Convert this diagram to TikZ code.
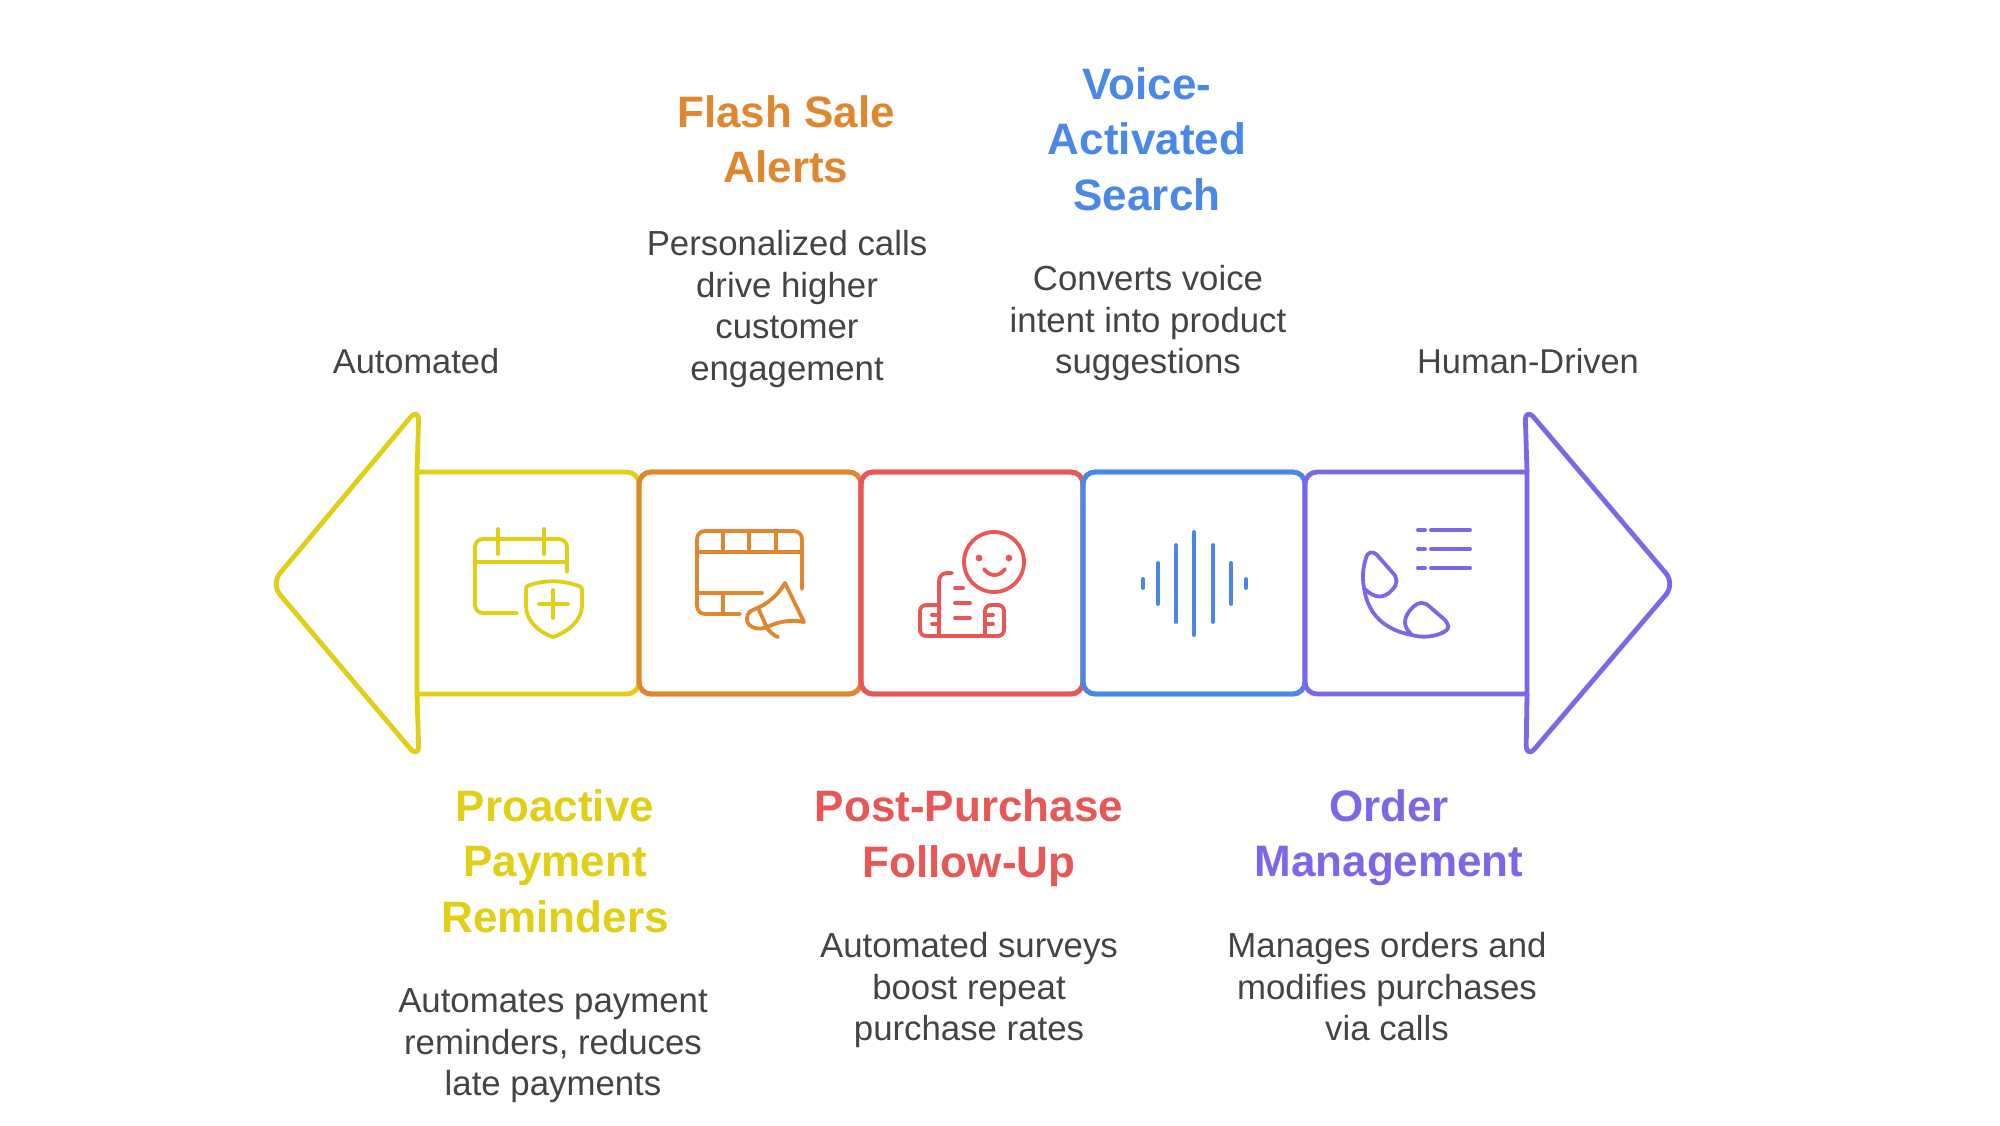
\documentclass[tikz,border=0pt]{standalone}
\usepackage{fontspec}
\setmainfont{Liberation Sans}
\usetikzlibrary{positioning}
\definecolor{remindcol}{HTML}{E0CF15}
\definecolor{flashcol}{HTML}{E0862F}
\definecolor{followcol}{HTML}{E85656}
\definecolor{voicecol}{HTML}{4A88E8}
\definecolor{ordercol}{HTML}{7F66E8}
\definecolor{bodycol}{HTML}{444444}
\tikzset{
  stepbox/.style={rectangle, rounded corners=6pt, minimum size=111pt, inner sep=0pt, outer sep=0pt, line width=2.4pt, fill=white},
  headarrow/.style={line width=2.4pt, rounded corners=7pt, line join=round},
  icon/.style={line width=1.9pt, line cap=round, line join=round},
  heading/.style={font=\fontsize{22}{27.7}\selectfont\bfseries, align=center, inner sep=0pt},
  detail/.style={font=\fontsize{17.4}{20.8}\selectfont, align=center, inner sep=0pt, text=bodycol},
  endlabel/.style={font=\fontsize{17.2}{20.8}\selectfont, inner sep=0pt, text=bodycol}
}
\begin{document}
\begin{tikzpicture}[x=0.5pt, y=-0.5pt]
    \useasboundingbox (0,0) rectangle (2000,1125);

    % Boxes
    \node (remind) [stepbox] at (528,583) {};
    \node (flash) [stepbox, draw=flashcol, right=0pt of remind] {};
    \node (follow) [stepbox, draw=followcol, right=0pt of flash] {};
    \node (voice) [stepbox, draw=voicecol, right=0pt of follow] {};
    \node (order) [stepbox, right=0pt of voice] {};

    \draw [remindcol, line width=2.4pt] (remind.south west) -- (remind.north west)
      [rounded corners=6pt] -- (remind.north east) -- (remind.south east) [sharp corners] -- cycle;
    \draw [flashcol, line width=2.4pt, rounded corners=6pt] (flash.north west) rectangle (flash.south east);
    \draw [followcol, line width=2.4pt, rounded corners=6pt] (follow.north west) rectangle (follow.south east);
    \draw [voicecol, line width=2.4pt, rounded corners=6pt] (voice.north west) rectangle (voice.south east);
    \draw [ordercol, line width=2.4pt] (order.south east) -- (order.north east)
      [rounded corners=6pt] -- (order.north west) -- (order.south west) [sharp corners] -- cycle;

    % Arrow heads
    \coordinate (lefttip) at (271,584);
    \coordinate (righttip) at (1675,584);
    \draw [headarrow, remindcol] (remind.north west) -- ++(2,-65) -- (lefttip) -- (419,759) -- (remind.south west);
    \draw [headarrow, ordercol] (order.north east) -- ++(-2,-65) -- (righttip) -- (1526,759) -- (order.south east);

    % Calendar with shield
    \draw [icon, remindcol, rounded corners=4pt] (567,572) -- (567,539) -- (475,539) -- (475,613) -- (517,613);
    \draw [icon, remindcol] (475,562) -- (567,562) (498,529) -- (498,554) (544,529) -- (544,554);
    \draw [icon, remindcol] (526,590) .. controls (526,586) and (527,586) .. (530,585)
      .. controls (545,580) and (561,580) .. (576,585) .. controls (579,586) and (582,586) .. (582,590)
      -- (582,606) .. controls (582,620) and (568,632) .. (553,637)
      .. controls (538,632) and (526,620) .. (526,606) -- cycle;
    \draw [icon, remindcol] (539,604) -- (568,604) (553,590) -- (553,618);

    % Film strip with megaphone
    \draw [icon, flashcol, rounded corners=4pt] (802,589) -- (802,531) -- (697,531) -- (697,614) -- (740,614);
    \draw [icon, flashcol] (697,552) -- (802,552) (697,593) -- (762,593)
      (723,531) -- (723,552) (749,531) -- (749,552) (776,531) -- (776,552) (723,593) -- (723,614);
    \draw [icon, flashcol] (785,583) -- (804,622) .. controls (790,619) and (778,622) .. (767,627)
      .. controls (757,631) and (747,627) .. (747,619) .. controls (747,613) and (750,611) .. (755,609)
      .. controls (768,604) and (778,595) .. (785,583) -- cycle;
    \draw [icon, flashcol] (759,610) -- (767,628) .. controls (770,632) and (773,635) .. (778,637);

    % Smiling face with buildings
    \draw [icon, followcol] (994,562) circle (30);
    \fill [followcol] (979,558) circle (3.4) (1009,558) circle (3.4);
    \draw [icon, followcol] (984,569) .. controls (990,577) and (999,577) .. (1005,569);
    \draw [icon, followcol, rounded corners=4pt] (939,636) -- (939,573) -- (952,573);
    \draw [icon, followcol, rounded corners=3pt] (938,605) -- (920,605) -- (920,636) -- (1004,636) -- (1004,605) -- (985,605) -- (985,636);
    \draw [icon, followcol] (932,615) -- (937,615) (932,624) -- (937,624) (987,615) -- (993,615) (987,624) -- (993,624)
      (955,588) -- (963,588) (955,603) -- (970,603) (955,618) -- (970,618);

    % Sound wave
    \draw [icon, voicecol] (1143,579) -- (1143,588) (1158,563) -- (1158,604) (1176,545) -- (1176,622)
      (1194,532) -- (1194,635) (1213,545) -- (1213,622) (1231,563) -- (1231,604) (1246,579) -- (1246,588);

    % Phone with list
    \draw [icon, ordercol] (1418,530) -- (1425,530) (1431,530) -- (1470,530)
      (1418,549) -- (1425,549) (1431,549) -- (1470,549) (1418,568) -- (1425,568) (1431,568) -- (1470,568);
    \draw [icon, ordercol] (1366,558) .. controls (1368,551) and (1373,551) .. (1377,555)
      -- (1392,572) .. controls (1398,578) and (1398,584) .. (1392,590)
      .. controls (1385,598) and (1375,600) .. (1364,588)
      .. controls (1362,577) and (1363,567) .. (1366,558) -- cycle;
    \draw [icon, ordercol] (1364,588) .. controls (1368,615) and (1385,630) .. (1412,635)
      .. controls (1422,638) and (1434,637) .. (1444,632) .. controls (1450,629) and (1449,625) .. (1445,620)
      -- (1430,607) .. controls (1424,601) and (1418,602) .. (1413,607)
      .. controls (1403,617) and (1402,626) .. (1412,635);

    % Labels
    \node (automated) [endlabel] at (416,361) {Automated};
    \node (human) [endlabel] at (1528,361) {Human-Driven};

    \node (remindhead) [heading, text=remindcol] at (555,861) {Proactive\\ Payment\\ Reminders};
    \node (reminddesc) [detail, below=27.7pt of remindhead, xshift=-1pt] {Automates payment\\ reminders, reduces\\ late payments};

    \node (flashhead) [heading, text=flashcol] at (786,139) {Flash Sale\\ Alerts};
    \node (flashdesc) [detail, below=23.4pt of flashhead, xshift=0.5pt] {Personalized calls\\ drive higher\\ customer\\ engagement};

    \node (voicehead) [heading, text=voicecol] at (1147,139) {Voice-\\ Activated\\ Search};
    \node (voicedesc) [detail, below=27pt of voicehead, xshift=0.5pt] {Converts voice\\ intent into product\\ suggestions};

    \node (followhead) [heading, text=followcol] at (969,838) {Post-Purchase\\ Follow-Up};
    \node (followdesc) [detail, below=22.7pt of followhead] {Automated surveys\\ boost repeat\\ purchase rates};

    \node (orderhead) [heading, text=ordercol] at (1389,838) {Order\\ Management};
    \node (orderdesc) [detail, below=22.7pt of orderhead, xshift=-1pt] {Manages orders and\\ modifies purchases\\ via calls};
\end{tikzpicture}
\end{document}
